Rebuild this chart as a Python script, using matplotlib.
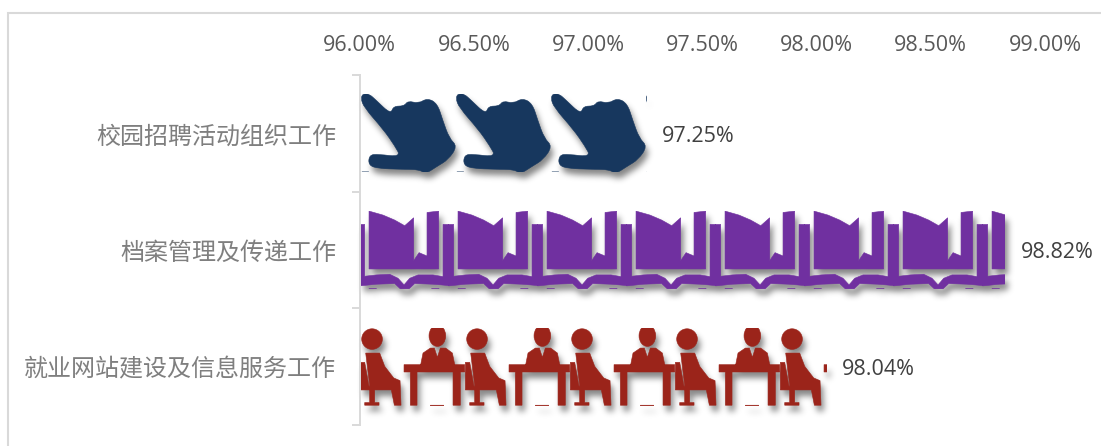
import numpy as np
import matplotlib
matplotlib.use("Agg")
import matplotlib.pyplot as plt
from matplotlib.path import Path
from matplotlib.patches import PathPatch, Rectangle
from matplotlib.transforms import Affine2D, Bbox, TransformedBbox

# ---- data ----
categories = ["校园招聘活动组织工作", "档案管理及传递工作", "就业网站建设及信息服务工作"]
values = [97.25, 98.82, 98.04]
value_labels = ["97.25%", "98.82%", "98.04%"]
x_ticks = [96.0, 96.5, 97.0, 97.5, 98.0, 98.5, 99.0]
x_tick_labels = ["96.00%", "96.50%", "97.00%", "97.50%", "98.00%", "98.50%", "99.00%"]
colors = ["#17375e", "#7030a0", "#9b241a"]

W, H = 1101, 446
CJK = ["Noto Sans CJK SC", "DejaVu Sans"]
LATIN = "Open Sans"


def gaussian_blur(sigma):
    """agg_filter: soften a rendered artist, used for the icons' drop shadow."""
    r = int(3 * sigma)
    kernel = np.exp(-0.5 * (np.arange(-r, r + 1) / sigma) ** 2)
    kernel /= kernel.sum()

    def apply(im, dpi):
        out = np.pad(im, ((r, r), (r, r), (0, 0)))
        alpha = out[:, :, 3]
        alpha = np.apply_along_axis(lambda m: np.convolve(m, kernel, mode="same"), 0, alpha)
        alpha = np.apply_along_axis(lambda m: np.convolve(m, kernel, mode="same"), 1, alpha)
        out[:, :, :3] = 0
        out[:, :, 3] = alpha
        return out, -r, -r

    return apply


def poly(pts, ox, oy):
    pts = np.array(pts, float) - [ox, oy]
    codes = [Path.MOVETO] + [Path.LINETO] * (len(pts) - 1) + [Path.CLOSEPOLY]
    return Path(np.vstack([pts, pts[0]]), codes)


def smooth(pts, ox, oy):
    p = np.array(pts, float) - [ox, oy]
    mids = (p + np.roll(p, -1, axis=0)) / 2
    verts = [mids[-1]]
    codes = [Path.MOVETO]
    for i in range(len(p)):
        verts += [p[i], mids[i]]
        codes += [Path.CURVE3, Path.CURVE3]
    return Path(np.array(verts), codes)


def ellipse(cx, cy, rx, ry, ox, oy):
    return Path(Path.unit_circle().vertices * [rx, ry] + [cx - ox, cy - oy], Path.unit_circle().codes)


def hand_icon():
    ox, oy = 59, 73
    return Path.make_compound_path(
        smooth([(62, 84), (70, 70), (88, 72), (108, 90), (152, 132), (160, 108), (192, 108), (204, 92),
                (235, 100), (262, 84), (292, 100), (308, 150), (328, 205), (352, 228), (325, 268),
                (292, 288), (255, 312), (240, 298), (180, 297), (115, 295), (85, 285), (88, 254),
                (115, 252), (182, 260), (165, 228), (130, 178), (72, 112)], ox, oy),
        poly([(66, 305), (86, 305), (86, 307), (66, 307)], ox, oy),
    )


def book_icon():
    ox, oy = 60, 48
    return Path.make_compound_path(
        poly([(88, 48), (130, 60), (165, 75), (195, 92), (222, 68), (222, 197), (238, 173),
              (262, 183), (262, 52), (297, 48), (297, 222), (88, 222)], ox, oy),
        poly([(60, 88), (75, 88), (75, 244), (110, 240), (150, 238), (175, 250), (193, 270),
              (210, 250), (235, 240), (280, 240), (310, 245), (310, 88), (327, 88), (327, 272),
              (280, 268), (225, 266), (208, 282), (182, 282), (165, 266), (110, 268), (60, 273)], ox, oy),
        poly([(88, 281), (110, 281), (110, 284), (88, 284)], ox, oy),
        poly([(276, 281), (298, 281), (298, 284), (276, 284)], ox, oy),
    )


def meeting_icon():
    ox, oy = 60, 39
    return Path.make_compound_path(
        ellipse(97, 73, 31, 31, ox, oy),
        poly([(78, 115), (120, 115), (135, 155), (162, 190), (181, 198), (184, 272), (164, 272),
              (155, 226), (105, 226), (105, 264), (118, 264), (118, 272), (75, 272), (75, 264),
              (90, 264), (90, 213)], ox, oy),
        poly([(62, 143), (75, 143), (90, 226), (62, 226)], ox, oy),
        poly([(193, 150), (375, 150), (375, 172), (362, 172), (362, 272), (340, 272), (340, 172),
              (232, 172), (232, 272), (212, 272), (212, 172), (193, 172)], ox, oy),
        ellipse(293, 63, 25, 32, ox, oy),
        poly([(243, 150), (250, 115), (272, 100), (284, 100), (293, 128), (302, 100), (318, 100),
              (338, 115), (345, 150)], ox, oy),
        poly([(272, 272), (312, 272), (312, 275), (272, 275)], ox, oy),
    )


# outline, design-unit tile size, tile width in output pixels
icons = [
    (hand_icon(), 285.0, 233.0, 95.0),
    (book_icon(), 267.0, 234.0, 89.0),
    (meeting_icon(), 315.0, 234.0, 105.0),
]

fig = plt.figure(figsize=(W / 100, H / 100), dpi=100, facecolor="white")
ax = fig.add_axes([359.7 / W, 1 - 425 / H, 685.3 / W, 350 / H])
ax.set_xlim(96, 99)
ax.set_ylim(2.5, -0.5)
ax.patch.set_alpha(0)
px_per_unit = 685.3 / 3

fig.add_artist(Rectangle((8 / W, -0.1), 1.2, 1.1 - 13 / H, transform=fig.transFigure,
                         fc="none", ec="#d9d9d9", lw=1.5, zorder=0))

for s in ["top", "right", "bottom"]:
    ax.spines[s].set_visible(False)
ax.spines["left"].set_color("#d9d9d9")
ax.spines["left"].set_linewidth(1.4)

ax.xaxis.tick_top()
ax.set_xticks(x_ticks)
ax.set_xticklabels(x_tick_labels, fontsize=15.5, color="#595959", family=LATIN)
ax.tick_params(axis="x", length=0, pad=14)
ax.set_yticks(range(len(categories)))
ax.set_yticklabels(categories, fontsize=17.3, color="#7f7f7f", family=CJK)
ax.tick_params(axis="y", which="major", length=0, pad=17)
ax.set_yticks([-0.5, 0.5, 1.5, 2.5], minor=True)
ax.tick_params(axis="y", which="minor", length=5.5, width=1.4, color="#d9d9d9")

bar_h = 2 / 3
bars = ax.barh(range(len(values)), [v - 96 for v in values], left=96, height=bar_h,
               color="none", edgecolor="none")

for i, (val, col, rect) in enumerate(zip(values, colors, bars)):
    path, uw, uh, tile_px = icons[i]
    tile = tile_px / px_per_unit
    n = int((val - 96) / tile) + 1
    top = i - bar_h / 2
    clip = TransformedBbox(Bbox([[96, top], [val, top + bar_h]]), ax.transData)
    x0, y0 = clip.x0 + 1, min(clip.y0, clip.y1)
    w, h = clip.x1 - x0 + 1.5, abs(clip.y1 - clip.y0)
    tiles = Path.make_compound_path(*[
        path.transformed(Affine2D().scale(tile / uw, bar_h / uh).translate(96 + k * tile, top))
        for k in range(n)
    ])
    shadow = PathPatch(tiles, fc="black", ec="none", alpha=0.48, zorder=2,
                       transform=ax.transData + Affine2D().translate(3, -6))
    ax.add_patch(shadow)
    shadow.set_clip_path(Rectangle((x0 + 3, y0 - 6), w, h, transform=None))
    shadow.set_agg_filter(gaussian_blur(3.2))
    shape = PathPatch(tiles, fc=col, ec=col, lw=0.4, zorder=3, transform=ax.transData)
    ax.add_patch(shape)
    shape.set_clip_path(Rectangle((x0, y0), w, h, transform=None))
    ax.annotate(value_labels[i], (val, i), xytext=(12, -2), textcoords="offset points",
                ha="left", va="center", fontsize=15.5, color="#404040", family=LATIN,
                annotation_clip=False)

fig.savefig("out.png", dpi=100, facecolor="white")
